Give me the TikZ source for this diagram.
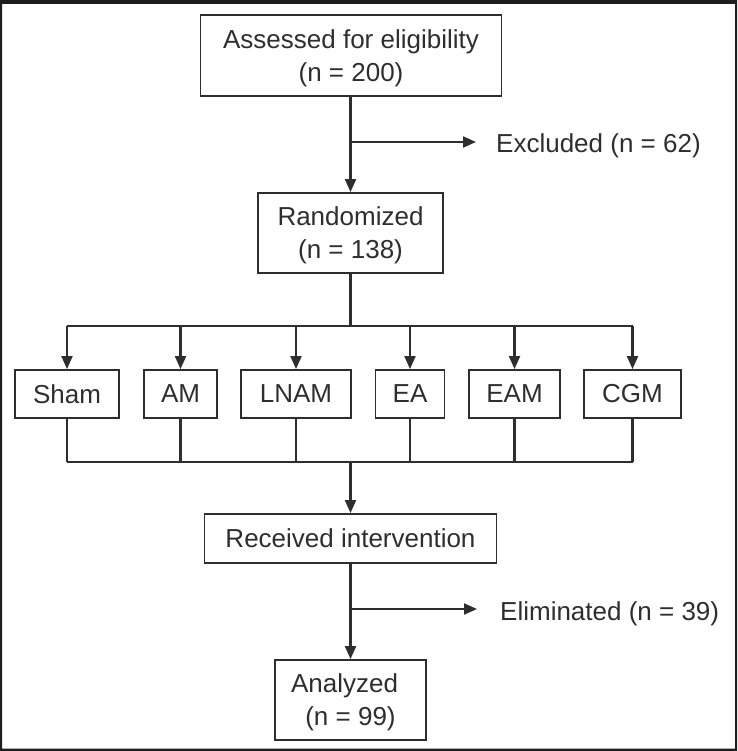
\documentclass[tikz,border=0pt]{standalone}
\usepackage{fontspec}
\setmainfont{Liberation Sans}
\usetikzlibrary{arrows.meta,calc}
\definecolor{ink}{HTML}{2E2E2E}
\definecolor{frm}{HTML}{1E1E1E}
\tikzset{
  box/.style={draw=ink, line width=1.9pt, rectangle, inner sep=0pt, align=center,
    text=ink, font=\fontsize{26}{33}\selectfont},
  twoline/.style={text depth=0pt},
  lbl/.style={inner sep=0pt, text=ink, font=\fontsize{26}{33}\selectfont},
  conn/.style={draw=ink, line width=2.1pt},
  arr/.style={conn, -{Triangle[length=13pt,width=11pt]}}
}
\begin{document}
\begin{tikzpicture}[x=1pt,y=-1pt]
\useasboundingbox (0,0) rectangle (737,751);
\fill[frm, even odd rule] (0,0) rectangle (737,751) (2,4) rectangle (735,748.5);

\node[box, twoline, minimum width=301pt, minimum height=81pt] (top) at (351,55.5) {Assessed for eligibility\\(n = 200)};
\node[box, twoline, minimum width=185pt, minimum height=80pt] (rand) at (350.5,233) {Randomized\\(n = 138)};

\node[box, minimum width=104pt, minimum height=48pt] (sham) at (67,394) {Sham};
\node[box, minimum width=73pt, minimum height=48pt] (am) at (180.5,394) {AM};
\node[box, minimum width=110pt, minimum height=48pt] (lnam) at (296,394) {LNAM};
\node[box, minimum width=69pt, minimum height=48pt] (ea) at (410,394) {EA};
\node[box, minimum width=91pt, minimum height=48pt] (eam) at (514.5,394) {EAM};
\node[box, minimum width=97pt, minimum height=48pt] (cgm) at (632.5,394) {CGM};

\node[box, minimum width=292pt, minimum height=49pt] (recv) at (350.5,538.5) {Received intervention};
\node[box, twoline, minimum width=151pt, minimum height=80pt] (anal) at (350.5,700) {Analyzed\hspace*{12pt}\\(n = 99)};

\node[lbl, anchor=base west] (excl) at (496,153) {Excluded (n = 62)};
\node[lbl, anchor=base west] (elim) at (500,620) {Eliminated (n = 39)};

\coordinate (exs) at (350.5,142);
\coordinate (exe) at (476,142);
\coordinate (els) at (350.5,609);
\coordinate (ele) at (477,609);
\coordinate (split) at (350.5,326);
\coordinate (join) at (350.5,462);

% top to randomized
\draw[arr] (top.south -| rand.north) -- (rand.north);
\draw[arr] (exs) -- (exe);

% randomized to groups
\draw[conn] (rand.south) -- (split);
\draw[conn] (sham.north |- split) -- (cgm.north |- split);
\foreach \g in {sham,am,lnam,ea,eam,cgm}{
  \draw[arr] (\g.north |- split) -- (\g.north);
  \draw[conn] (\g.south) -- (\g.south |- join);
}
\draw[conn] (sham.south |- join) -- (cgm.south |- join);
\draw[arr] (join) -- (recv.north);

% received to analyzed
\draw[arr] (recv.south) -- (anal.north);
\draw[arr] (els) -- (ele);
\end{tikzpicture}
\end{document}
